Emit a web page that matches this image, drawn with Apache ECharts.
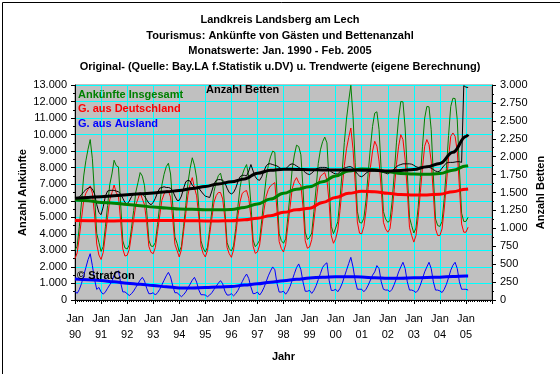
<!DOCTYPE html>
<html><head><meta charset="utf-8">
<script src="https://cdn.jsdelivr.net/npm/echarts@6/dist/echarts.min.js"></script>
<style>html,body{margin:0;padding:0;background:#fff}#c{width:560px;height:374px}</style>
</head><body><div id="c"></div>
<script>
// Tick labels (years, Jan of each year)
const yearLabels = ['90','91','92','93','94','95','96','97','98','99','00','01','02','03','04','05'];

// Monthly values Jan 1990 .. Feb 2005
const ankuenfteInsgesamt = [
3020,3250,4460,5920,7500,8420,9120,9700,8540,6380,4020,3480,
2940,3230,4430,5710,6980,7620,8450,8120,8050,5850,3580,3150,
3080,3330,4340,5405,6525,7105,7705,7490,6910,5390,3620,3260,
3240,3480,4570,5720,6950,7600,8060,8270,7620,5740,3810,3430,
2920,3240,4460,5730,7070,7960,8600,8150,7380,5630,3580,3140,
2900,3190,4270,5380,6560,7140,7520,7670,7090,5480,3480,3100,
2960,3270,4330,5660,6800,7560,7930,8190,7450,5800,3630,3220,
3380,3620,4850,6170,7360,8140,8650,9000,8930,6430,4010,3590,
3430,3700,5010,6410,7930,8770,9360,9280,8780,6680,4110,3660,
3780,4050,5360,6760,8260,9080,9570,9850,9500,7100,4460,4010,
4350,4740,6100,7760,9520,10940,12020,12980,11140,8300,5370,4690,
4650,4950,6050,7700,9200,10500,11300,11380,10300,7800,5350,4900,
4700,4800,5950,7650,9500,11000,12000,11980,10400,7700,5000,4500,
4050,4350,5600,7400,9300,11000,11700,11680,10300,7500,4900,4500,
4450,4750,6150,7950,9950,11700,12200,12180,10900,7900,5250,4750,
4750,5000];

const ausDeutschland = [
2500,2850,3820,4920,6020,6460,6680,6900,6460,5140,3380,2720,
2450,2880,3940,5000,6060,6490,6950,6490,6280,4790,3090,2660,
2700,3060,3960,4860,5760,6120,6500,6120,5760,4680,3240,2880,
2800,3180,4130,5080,6030,6410,6600,6600,6220,4890,3370,2990,
2600,3040,4140,5240,6340,7000,7400,6780,6300,5020,3260,2820,
2600,2990,3970,4940,5920,6310,6500,6500,6110,4940,3180,2800,
2580,3020,3950,5080,5950,6450,6560,6620,6150,5020,3250,2820,
2900,3320,4370,5420,6260,6680,6900,7000,7100,5420,3530,3110,
2900,3350,4480,5600,6730,7180,7400,7100,6950,5600,3580,3130,
3200,3650,4780,5900,7030,7480,7600,7700,7250,5900,3880,3430,
3700,4240,5400,6760,8120,9140,9820,10400,9140,7100,4720,4040,
4000,4450,5400,6800,8000,9000,9600,9300,8400,6700,4700,4300,
4100,4300,5300,6700,8200,9300,10000,9700,8500,6600,4400,3900,
3500,3900,5000,6500,8000,9300,9700,9400,8400,6400,4300,3900,
3900,4300,5500,7000,8600,9900,10100,9900,9000,6800,4600,4100,
4100,4400];

const ausAusland = [
520,400,640,1000,1480,1960,2440,2800,2080,1240,640,760,
490,350,490,710,920,1130,1500,1630,1770,1060,490,490,
380,270,380,545,765,985,1205,1370,1150,710,380,380,
440,300,440,640,920,1190,1460,1670,1400,850,440,440,
320,200,320,490,730,960,1200,1370,1080,610,320,320,
300,200,300,440,640,830,1020,1170,980,540,300,300,
380,250,380,580,850,1110,1370,1570,1300,780,380,400,
480,300,480,750,1100,1460,1750,2000,1830,1010,480,480,
530,350,530,810,1200,1590,1960,2180,1830,1080,530,530,
580,400,580,860,1230,1600,1970,2150,2250,1200,580,580,
650,500,700,1000,1400,1800,2200,2580,2000,1200,650,650,
650,500,650,900,1200,1500,1700,2080,1900,1100,650,600,
600,500,650,950,1300,1700,2000,2280,1900,1100,600,600,
550,450,600,900,1300,1700,2000,2280,1900,1100,600,600,
550,450,650,950,1350,1800,2100,2280,1900,1100,650,650,
650,600];

const anzahlBetten = [
1430,1420,1440,1470,1510,1540,1560,1575,1550,1480,1330,1220,
1190,1300,1450,1520,1530,1530,1530,1520,1510,1480,1420,1360,
1340,1380,1440,1480,1490,1480,1470,1480,1450,1400,1350,1330,
1360,1420,1500,1560,1570,1580,1570,1570,1560,1520,1450,1390,
1390,1450,1560,1650,1670,1660,1600,1570,1570,1560,1520,1480,
1450,1440,1430,1520,1620,1670,1680,1680,1670,1640,1560,1500,
1480,1500,1560,1650,1720,1740,1740,1730,1800,1890,1800,1720,
1680,1670,1720,1800,1870,1900,1900,1890,1880,1870,1850,1830,
1820,1830,1860,1890,1900,1890,1870,1850,1830,1810,1780,1760,
1750,1770,1800,1830,1840,1850,1850,1850,1845,1820,1790,1770,
1760,1760,1790,1820,1840,1850,1860,1860,1840,1800,1760,1730,
1720,1740,1770,1790,1800,1800,1800,1800,1795,1790,1780,1770,
1760,1780,1800,1830,1860,1880,1890,1900,1900,1900,1900,1895,
1880,1860,1850,1855,1860,1860,1860,1850,1840,1820,1800,1790,
1800,1840,1880,1910,1920,1920,1920,1925,1930,1930,1920,2990,
2970,2965];

// Trend values read at half-year knots (month index from Jan 1990)
const trendMonths = [0,6,12,18,24,30,36,42,48,54,60,66,72,78,84,90,96,102,108,114,120,126,132,138,144,150,156,162,168,174,180,181];
const trendInsgesamt = [6050,6000,5900,5850,5780,5700,5620,5560,5500,5480,5460,5450,5470,5600,5800,6100,6450,6700,6850,7150,7500,7800,7920,7880,7750,7650,7620,7600,7650,7850,8100,8120];
const trendDeutschland = [4800,4790,4780,4780,4790,4790,4800,4800,4800,4790,4780,4780,4790,4850,4950,5100,5300,5450,5550,5900,6200,6450,6570,6550,6450,6380,6350,6350,6400,6550,6700,6710];
const trendAusland = [1270,1230,1180,1100,1020,950,880,800,730,730,750,780,810,900,980,1080,1160,1250,1330,1380,1410,1410,1390,1340,1310,1320,1340,1360,1380,1420,1450,1450];
const trendBetten = [1419,1430,1442,1455,1468,1481,1494,1510,1528,1555,1585,1620,1650,1690,1770,1810,1825,1822,1818,1815,1815,1815,1812,1810,1800,1808,1820,1860,1905,2060,2280,2310];

const titleLines = [
  'Landkreis Landsberg am Lech',
  'Tourismus: Ankünfte von Gästen und Bettenanzahl',
  'Monatswerte: Jan. 1990 - Feb. 2005',
  'Original- (Quelle: Bay.LA f.Statistik u.DV) u. Trendwerte (eigene Berechnung)'
];

const FONT = 'Liberation Sans, Arial, sans-serif';
const monthly = arr => arr.map((v, i) => [i, v]);
const knots = arr => arr.map((v, i) => [trendMonths[i], v]);
const fmtThousands = v => String(v).replace(/\B(?=(\d{3})+(?!\d))/g, '.');

const chart = echarts.init(document.getElementById('c'), null, {renderer: 'canvas'});

function thin(name, data, color, yIdx) {
  return {name, type: 'line', data: monthly(data), yAxisIndex: yIdx || 0, symbol: 'none',
    lineStyle: {color, width: 1}, itemStyle: {color}, silent: true};
}
function thick(name, data, color, yIdx) {
  return {name, type: 'line', data: knots(data), yAxisIndex: yIdx || 0, symbol: 'none',
    smooth: 0.4, smoothMonotone: 'x', lineStyle: {color, width: 3}, itemStyle: {color}, silent: true, z: 3};
}

const titleGraphics = titleLines.map((t, i) => ({
  type: 'text', x: 280, y: 20 + i * 15.5, z: 100, silent: true,
  style: {text: t, textAlign: 'center', textVerticalAlign: 'middle', fill: '#000', font: 'bold 11px ' + FONT}
}));

const option = {
  animation: false,
  backgroundColor: '#ffffff',
  textStyle: {fontFamily: FONT},
  grid: {left: 75, top: 85, width: 417, height: 215, show: true, backgroundColor: '#c0c0c0', borderColor: '#808080', borderWidth: 1},
  xAxis: {
    type: 'value', min: 0, max: 192, interval: 12,
    name: 'Jahr', nameLocation: 'middle', nameGap: 51,
    nameTextStyle: {fontFamily: FONT, fontSize: 11, fontWeight: 'bold', color: '#000'},
    axisLine: {show: true, onZero: false, lineStyle: {color: '#000', width: 1}},
    axisTick: {show: true, length: 4, lineStyle: {color: '#000'}},
    minorTick: {show: true, splitNumber: 12, length: 2, lineStyle: {color: '#000'}},
    splitLine: {show: true, lineStyle: {color: '#00ffff', width: 1}},
    axisLabel: {fontFamily: FONT, fontSize: 11, color: '#000', lineHeight: 16, margin: 11,
      formatter: v => { const k = Math.round(v / 12); return k < yearLabels.length ? 'Jan\n' + yearLabels[k] : ''; }}
  },
  yAxis: [{
    type: 'value', min: 0, max: 13000, interval: 1000, position: 'left',
    name: 'Anzahl Ankünfte', nameLocation: 'middle', nameGap: 47, nameRotate: 90, nameMoveOverlap: false,
    nameTextStyle: {fontFamily: FONT, fontSize: 11, fontWeight: 'bold', color: '#000'},
    axisLine: {show: true, lineStyle: {color: '#000'}},
    axisTick: {show: true, length: 4, lineStyle: {color: '#000'}},
    minorTick: {show: true, splitNumber: 2, length: 2, lineStyle: {color: '#000'}},
    splitLine: {show: true, lineStyle: {color: '#00ffff', width: 1}},
    axisLabel: {fontFamily: FONT, fontSize: 11, color: '#000', margin: 8, formatter: fmtThousands}
  }, {
    type: 'value', min: 0, max: 3000, interval: 250, position: 'right',
    name: 'Anzahl Betten', nameLocation: 'middle', nameGap: 43, nameRotate: 90, nameMoveOverlap: false,
    nameTextStyle: {fontFamily: FONT, fontSize: 11, fontWeight: 'bold', color: '#000'},
    axisLine: {show: true, lineStyle: {color: '#000'}},
    axisTick: {show: true, length: 4, lineStyle: {color: '#000'}},
    minorTick: {show: true, splitNumber: 2, length: 2, lineStyle: {color: '#000'}},
    splitLine: {show: false},
    axisLabel: {fontFamily: FONT, fontSize: 11, color: '#000', margin: 8, formatter: fmtThousands}
  }],
  series: [
    thin('Ankünfte Insgesamt', ankuenfteInsgesamt, '#008000'),
    thin('G. aus Deutschland', ausDeutschland, '#ff0000'),
    thin('G. aus Ausland', ausAusland, '#0000ff'),
    thin('Anzahl Betten', anzahlBetten, '#000000', 1),
    thick('Trend Insgesamt', trendInsgesamt, '#008000'),
    thick('Trend Deutschland', trendDeutschland, '#ff0000'),
    thick('Trend Ausland', trendAusland, '#0000ff'),
    thick('Trend Betten', trendBetten, '#000000', 1)
  ],
  graphic: titleGraphics.concat([
    {type: 'rect', left: 0, top: 0, z: 100, silent: true,
      shape: {x: 0.5, y: 0.5, width: 559, height: 373}, style: {fill: 'none', stroke: '#000', lineWidth: 1}},
    {type: 'text', left: 78, top: 89, z: 100, style: {text: 'Ankünfte Insgesamt', fill: '#008000', font: 'bold 11px ' + FONT}},
    {type: 'text', left: 78, top: 103, z: 100, style: {text: 'G. aus Deutschland', fill: '#ff0000', font: 'bold 11px ' + FONT}},
    {type: 'text', left: 78, top: 118, z: 100, style: {text: 'G. aus Ausland', fill: '#0000ff', font: 'bold 11px ' + FONT}},
    {type: 'text', left: 206, top: 84, z: 100, style: {text: 'Anzahl Betten', fill: '#000000', font: 'bold 11px ' + FONT}},
    {type: 'text', left: 77, top: 270, z: 100, style: {text: '© StratCon', fill: '#000000', font: 'bold 11px ' + FONT}}
  ])
};
chart.setOption(option);
</script>
</body></html>
